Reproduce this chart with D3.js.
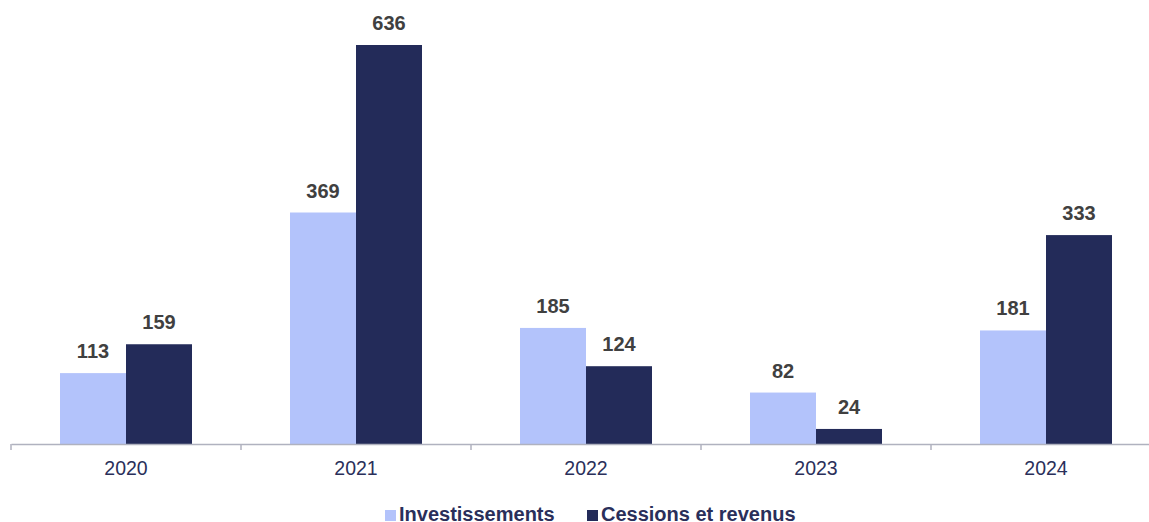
<!DOCTYPE html>
<html><head><meta charset="utf-8">
<script src="https://cdn.jsdelivr.net/npm/d3@7"></script>
<style>body{margin:0;background:#fff}svg{display:block}text{font-family:"Liberation Sans",Arial,sans-serif}</style>
</head><body><svg id="c" width="1149" height="522"></svg>
<script>
const years = ["2020","2021","2022","2023","2024"];
const investissements = [113,369,185,82,181];
const cessions = [159,636,124,24,333];
const seriesNames = ["Investissements","Cessions et revenus"];
const colors = ["#b3c3fb","#232b59"];

const svg = d3.select("#c");
const x = d3.scaleBand().domain(years).range([11,1161]).paddingInner(0).paddingOuter(0);
const y = d3.scaleLinear().domain([0,636]).range([444,45]);
const barW = 66;

const series = [investissements, cessions];
series.forEach((vals,si)=>{
  const g = svg.append("g");
  g.selectAll("rect").data(vals).join("rect")
    .attr("x",(d,i)=>x(years[i])+x.bandwidth()/2 - barW + si*barW)
    .attr("y",d=>y(d)).attr("width",barW).attr("height",d=>y(0)-y(d))
    .attr("fill",colors[si]);
  g.selectAll("text").data(vals).join("text")
    .attr("x",(d,i)=>x(years[i])+x.bandwidth()/2 - barW/2 + si*barW)
    .attr("y",d=>y(d)-15).attr("text-anchor","middle")
    .attr("font-size",20).attr("font-weight","bold").attr("fill","#404040")
    .text(d=>d);
});

const axis = d3.axisBottom(x).tickSize(0).tickSizeOuter(0);
const ag = svg.append("g").attr("transform","translate(0,444)").call(axis);
ag.select(".domain").attr("stroke","#b0b2bf").attr("stroke-width",1.5);
ag.selectAll(".tick text").attr("font-size",19.5).attr("fill","#2a2f5a").attr("dy","0").attr("y",31).attr("font-family","Liberation Sans, Arial, sans-serif");
// category separators
svg.append("g").selectAll("line").data(years.concat(["end"])).join("line")
  .attr("x1",(d,i)=>11+i*x.bandwidth()).attr("x2",(d,i)=>11+i*x.bandwidth())
  .attr("y1",444).attr("y2",450).attr("stroke","#b0b2bf").attr("stroke-width",1.5);

// legend
const leg = [{x:385,tx:399},{x:587,tx:601}];
seriesNames.forEach((n,i)=>{
  svg.append("rect").attr("x",leg[i].x).attr("y",510).attr("width",11).attr("height",11).attr("fill",colors[i]);
  svg.append("text").attr("x",leg[i].tx).attr("y",521).attr("font-size",20).attr("font-weight","bold").attr("fill","#2a2f5a").text(n);
});
</script></body></html>
